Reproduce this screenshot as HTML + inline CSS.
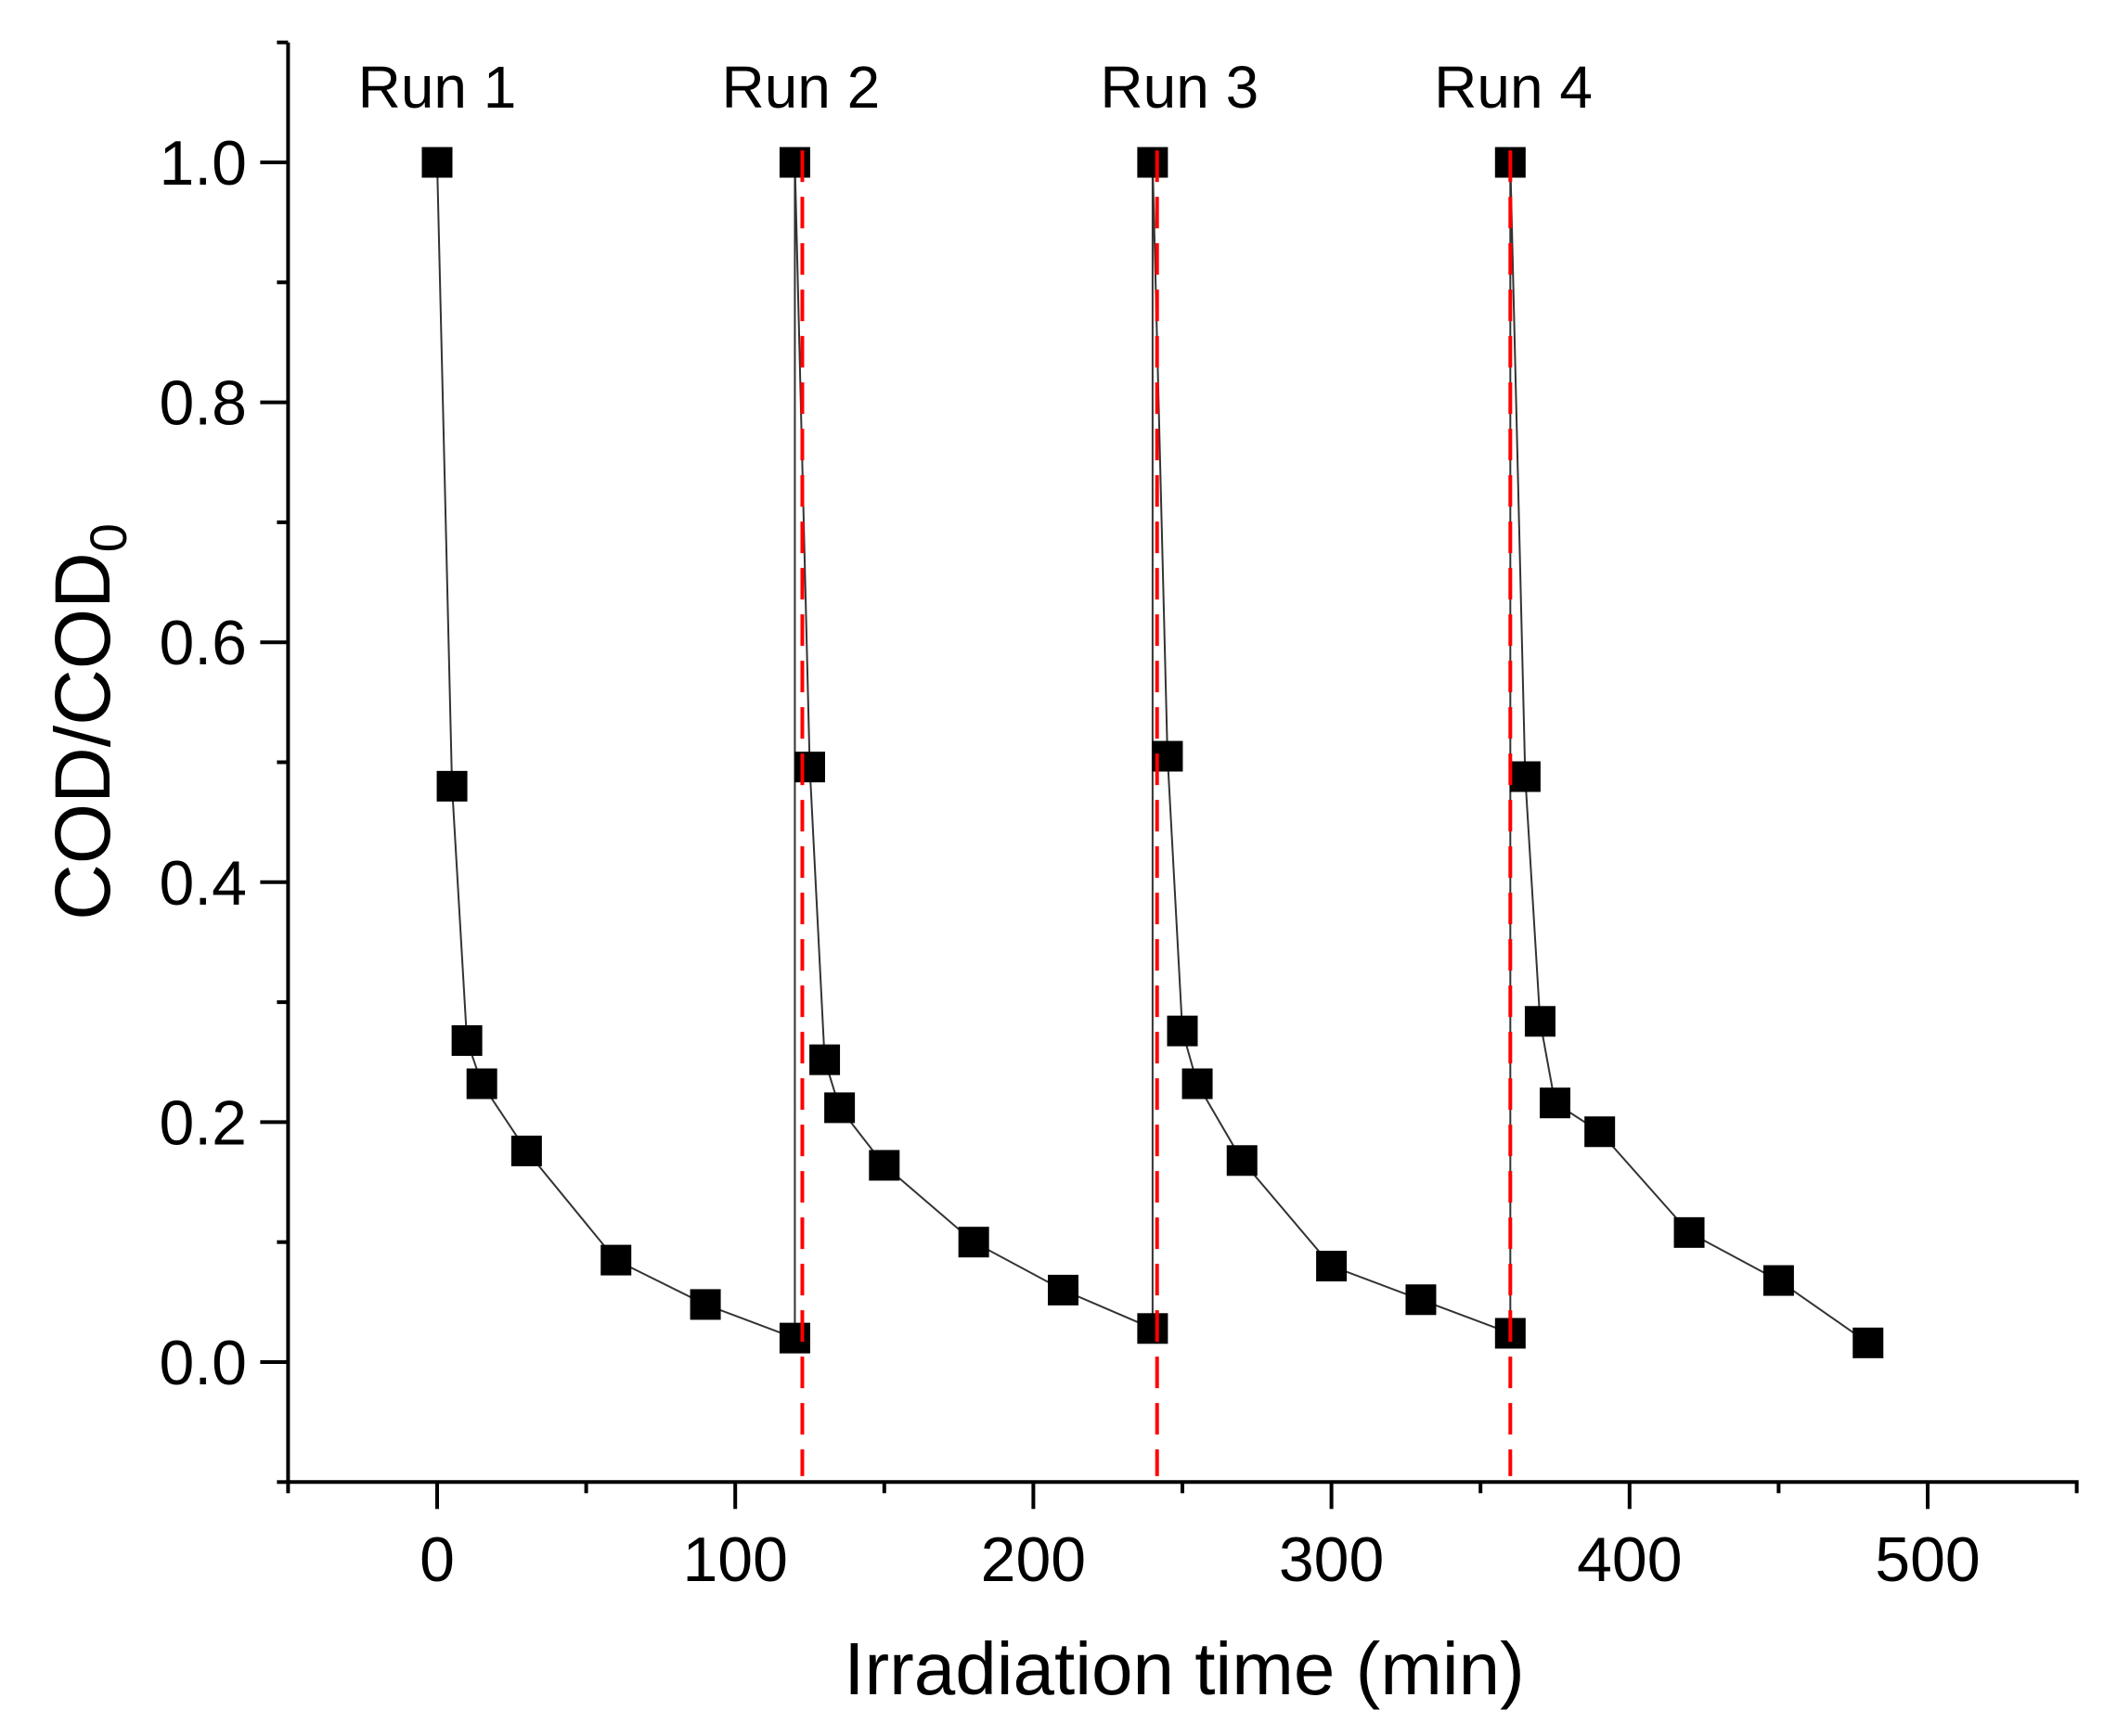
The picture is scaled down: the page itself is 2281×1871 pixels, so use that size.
<!DOCTYPE html>
<html><head><meta charset="utf-8"><style>
html,body{margin:0;padding:0;background:#fff;}
svg{display:block;font-family:"Liberation Sans",Arial,sans-serif;}
</style></head><body>
<svg id="chart" width="2281" height="1871" viewBox="0 0 2281 1871" xmlns="http://www.w3.org/2000/svg">
<g id="axes"></g>
<g id="marks"></g>
<text x="1276" y="1826" font-size="80" text-anchor="middle">Irradiation time (min)</text>
<text transform="translate(118,778) rotate(-90)" font-size="84" text-anchor="middle">COD/COD<tspan font-size="56" dy="18">0</tspan></text>
</svg>
<script>
const times = [0,5,10,15,30,60,90,120, 120,125,130,135,150,180,210,240, 240,245,250,255,270,300,330,360, 360,365,370,375,390,420,450,480];
const codRatio = [1.0,0.48,0.268,0.232,0.176,0.085,0.048,0.02, 1.0,0.496,0.252,0.212,0.164,0.1,0.06,0.028, 1.0,0.505,0.276,0.232,0.168,0.08,0.052,0.024, 1.0,0.488,0.284,0.216,0.192,0.108,0.068,0.016];
const runBoundaries = [122.5,241.5,360];
const runLabels = ["Run 1","Run 2","Run 3","Run 4"];
const runLabelTimes = [0,122,249,361];
const xTicks = [0,100,200,300,400,500];
const yTicks = [0.0,0.2,0.4,0.6,0.8,1.0];
const yTickLabels = ["0.0","0.2","0.4","0.6","0.8","1.0"];

const X0=471, XS=(2077-471)/500;
const Y0=1468, YS=(1468-175);
function xs(t){return X0+t*XS;}
function ys(v){return Y0-v*YS;}
const NS="http://www.w3.org/2000/svg";
function mk(tag,attrs,parent){const e=document.createElementNS(NS,tag);for(const k in attrs)e.setAttribute(k,attrs[k]);parent.appendChild(e);return e;}
const axes=document.getElementById('axes');
const marks=document.getElementById('marks');
const L=xs(-50),R=xs(550),T=ys(1.1),B=ys(-0.1);
let a=mk('line',{x1:L,y1:T,x2:L,y2:B+2,stroke:'#000','stroke-width':4},axes);


a=mk('line',{x1:L-2,y1:B,x2:R+2,y2:B,stroke:'#000','stroke-width':4},axes);


for(let t=-50;t<=550;t+=50){
  const major=(t%100===0);
  const tk=mk('line',{x1:xs(t),y1:B,x2:xs(t),y2:B+(major?29:12),stroke:'#000','stroke-width':4},axes);
  
  
}
xTicks.forEach(t=>{
  const tx=mk('text',{x:xs(t),y:1704,'font-size':68,'text-anchor':'middle'},axes);
  tx.textContent=t;
  
  
});
for(let i=-1;i<=11;i++){
  const v=i/10, major=(i%2===0)&&i>=0&&i<=10;
  const tk=mk('line',{x1:L,y1:ys(v),x2:L-(major?30:12),y2:ys(v),stroke:'#000','stroke-width':4},axes);
  
  
}
yTicks.forEach((v,i)=>{
  const tx=mk('text',{x:266,y:ys(v)+24,'font-size':68,'text-anchor':'end'},axes);
  tx.textContent=yTickLabels[i];
  
  
});
const pts=times.map((t,i)=>xs(t)+','+ys(codRatio[i])).join(' ');
const pl=mk('polyline',{points:pts,fill:'none',stroke:'#333','stroke-width':2},marks);


times.forEach((t,i)=>{
  const r=mk('rect',{x:xs(t)-16.5,y:ys(codRatio[i])-16.5,width:33,height:33,fill:'#000'},marks);
  
  
});
runBoundaries.forEach(t=>{
  const l=mk('line',{x1:xs(t),y1:ys(1.01),x2:xs(t),y2:ys(-0.095),stroke:'#ff0000','stroke-width':4,'stroke-dasharray':'34,16'},marks);
  
  
});
runLabels.forEach((s,i)=>{
  const tx=mk('text',{x:xs(runLabelTimes[i]),y:116,'font-size':64,'text-anchor':'middle'},marks);
  tx.textContent=s;
  
  
});
</script>
</body></html>
